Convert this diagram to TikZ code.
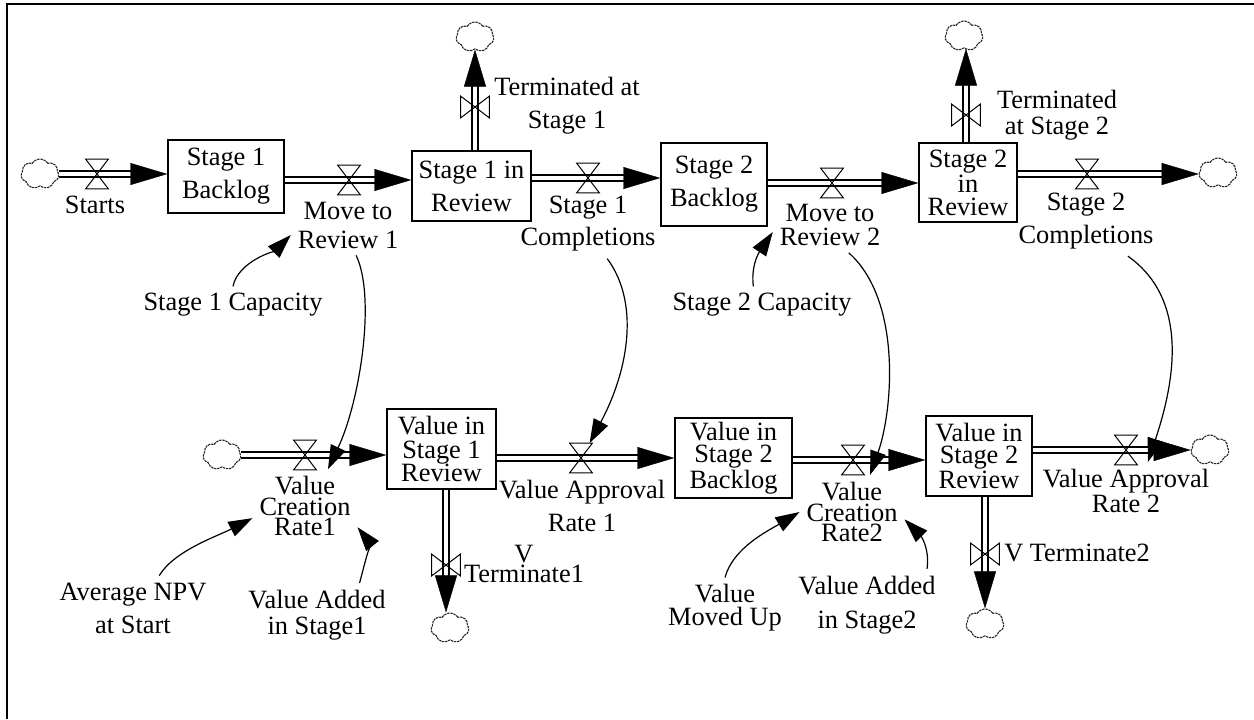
\documentclass[tikz,border=0pt]{standalone}
\usepackage{fontspec}
\setmainfont{Liberation Serif}
\usetikzlibrary{arrows.meta,shapes.symbols}

\begin{document}
\begin{tikzpicture}[x=0.5pt, y=-0.5pt,
    lbl/.style={align=center, font=\fontsize{13.2pt}{#1}\selectfont},
    lbl/.default=16.5pt,
    stock/.style={draw, line width=0.7pt, inner sep=0pt},
    cloudy/.style={cloud, cloud puffs=7, cloud puff arc=115, aspect=1.3, inner sep=0pt,
        minimum width=19pt, minimum height=15pt, draw=black!85, line width=0.55pt,
        dash pattern=on 1.2pt off 0.4pt},
    valveh/.style={inner sep=0pt, minimum width=11pt, minimum height=14.5pt},
    valvev/.style={inner sep=0pt, minimum width=14pt, minimum height=10.5pt},
    pipe/.style={double, double distance=2.4pt, line width=0.6pt, shorten >=9pt},
    pipetip/.style={draw=white, line width=0.2pt,
        -{Triangle[length=18.5pt, width=11pt, color=black, fill=black]}},
    link/.style={line width=0.6pt, -{Triangle[length=12pt, width=8pt]}}
]
    \useasboundingbox (0,0) rectangle (1254,719);
    \draw[line width=0.65pt] (7,719) -- (7,4) -- (1254,4);

    %stocks
    \node[stock, lbl, minimum width=58pt, minimum height=36.5pt] (bk1) at (226,176.5) {Stage 1\\Backlog};
    \node[stock, lbl, minimum width=59.5pt, minimum height=35pt] (rev1) at (471.5,186) {Stage 1 in\\Review};
    \node[stock, lbl, minimum width=53pt, minimum height=41.5pt] (bk2) at (714,184.5) {Stage 2\\Backlog};
    \node[stock, lbl=11.5pt, minimum width=49pt, minimum height=39.5pt] (rev2) at (968,182.5) {Stage 2\\in\\Review};
    \node[stock, lbl=11.75pt, minimum width=54.5pt, minimum height=40pt] (vrev1) at (441.5,449) {Value in\\Stage 1\\Review};
    \node[stock, lbl=11.25pt, minimum width=58.5pt, minimum height=40pt] (vbk2) at (733.5,458) {Value in\\Stage 2\\Backlog};
    \node[stock, lbl=11.25pt, minimum width=53pt, minimum height=40pt] (vrev2) at (979,456) {Value in\\Stage 2\\Review};

    %sources and sinks
    \foreach \n/\x/\y in {cStart/40/174, cTerm1/475/37, cTerm2/964/36, cComp2/1218/173,
        cCre1/222/455, cVT1/450/628, cApp2/1210/450, cVT2/985/624} {
        \node[cloudy] (\n) at (\x,\y) {};
    }

    %valves
    \foreach \n/\x/\y in {vStarts/97/174, vMove1/349/180, vComp1/588/178, vMove2/832/183,
        vComp2/1087/174, vCre1/305/455, vApp1/581/458, vCre2/853/460, vApp2/1126/450} {
        \node[valveh] (\n) at (\x,\y) {};
    }
    \foreach \n/\x/\y in {vTerm1/475/107, vTerm2/966/115, vVT1/446/565, vVT2/985/554} {
        \node[valvev] (\n) at (\x,\y) {};
    }

    %flows
    \foreach \v/\a/\b in {vStarts/cStart.east/bk1.west, vMove1/bk1.east/rev1.west,
        vComp1/rev1.east/bk2.west, vMove2/bk2.east/rev2.west, vComp2/rev2.east/cComp2.west,
        vCre1/cCre1.east/vrev1.west, vApp1/vrev1.east/vbk2.west,
        vCre2/vbk2.east/vrev2.west, vApp2/vrev2.east/cApp2.west} {
        \draw[pipe] (\v -| \a) -- (\v -| \b);
        \draw[pipetip] (\v) -- (\v -| \b);
    }
    \foreach \v/\a/\b in {vTerm1/rev1.north/cTerm1.south, vTerm2/rev2.north/cTerm2.south,
        vVT1/vrev1.south/cVT1.north, vVT2/vrev2.south/cVT2.north} {
        \draw[pipe] (\v |- \a) -- (\v |- \b);
        \draw[pipetip] (\v) -- (\v |- \b);
    }

    \foreach \v in {vStarts, vMove1, vComp1, vMove2, vComp2, vCre1, vApp1, vCre2, vApp2} {
        \draw[line width=0.5pt] (\v.north west) -- (\v.north east) -- (\v.south west) -- (\v.south east) -- cycle;
    }
    \foreach \v in {vTerm1, vTerm2, vVT1, vVT2} {
        \draw[line width=0.5pt] (\v.north west) -- (\v.south west) -- (\v.north east) -- (\v.south east) -- cycle;
    }

    %flow names
    \node[lbl] (lbStarts) at (95,205) {Starts};
    \node[lbl=14.5pt] (mv1) at (348,225) {Move to\\Review 1};
    \node[lbl=16pt] (cmp1) at (588,224) {Stage 1\\Completions};
    \node[lbl=12pt] (mv2) at (830,225) {Move to\\Review 2};
    \node[lbl] (cmp2) at (1086,221) {Stage 2\\Completions};
    \node[lbl] (lbTerm1) at (567,106) {Terminated at\\Stage 1};
    \node[lbl=13pt] (lbTerm2) at (1057,115) {Terminated\\at Stage 2};
    \node[lbl=10.2pt] (lbCre1) at (305,506) {Value\\Creation\\Rate1};
    \node[lbl] (lbApp1) at (582,506) {Value Approval\\Rate 1};
    \node[lbl=10pt] (lbVT1) at (524,564) {V\\Terminate1};
    \node[lbl=10.4pt] (lbCre2) at (852,512) {Value\\Creation\\Rate2};
    \node[lbl=11.5pt] (lbApp2) at (1126,491) {Value Approval\\Rate 2};
    \node[lbl] (lbVT2) at (1077,553) {V Terminate2};

    %auxiliaries
    \node[lbl] (capS1) at (233,305) {Stage 1 Capacity};
    \node[lbl] (capS2) at (762,305) {Stage 2 Capacity};
    \node[lbl] (npv) at (133,608) {Average NPV\\at Start};
    \node[lbl=13pt] (va1) at (317,615) {Value Added\\in Stage1};
    \node[lbl=11.5pt] (vmu) at (725,608) {Value\\Moved Up};
    \node[lbl=17pt] (va2) at (867,605) {Value Added\\in Stage2};

    %links
    \draw[link] (capS1.north) .. controls +(5,-25) and +(-15,15) .. (mv1.190);
    \draw[link] (capS2.115) .. controls +(-3,-25) and +(-10,15) .. (mv2.187);
    \draw[link] (mv1.-75) .. controls +(20,42) and +(32,-68) .. (lbCre1.58);
    \draw[link] (cmp1.-61) .. controls +(32,43) and +(40,-75) .. (vApp1.60);
    \draw[link] (mv2.-56) .. controls +(53,47) and +(23,-65) .. (lbCre2.64);
    \draw[link] (cmp2.-40) .. controls +(51,36) and +(35,-104) .. (lbApp2.53);
    \draw[link] (npv.51) .. controls +(15,-25) and +(-35,18) .. (lbCre1.193);
    \draw[link] (va1.37) .. controls +(6,-22) and +(12,15) .. (lbCre1.-22);
    \draw[link] (vmu.north) .. controls +(8,-30) and +(-30,18) .. (lbCre2.west);
    \draw[link] (va2.31) .. controls +(3,-22) and +(15,15) .. (lbCre2.-8);
\end{tikzpicture}
\end{document}
